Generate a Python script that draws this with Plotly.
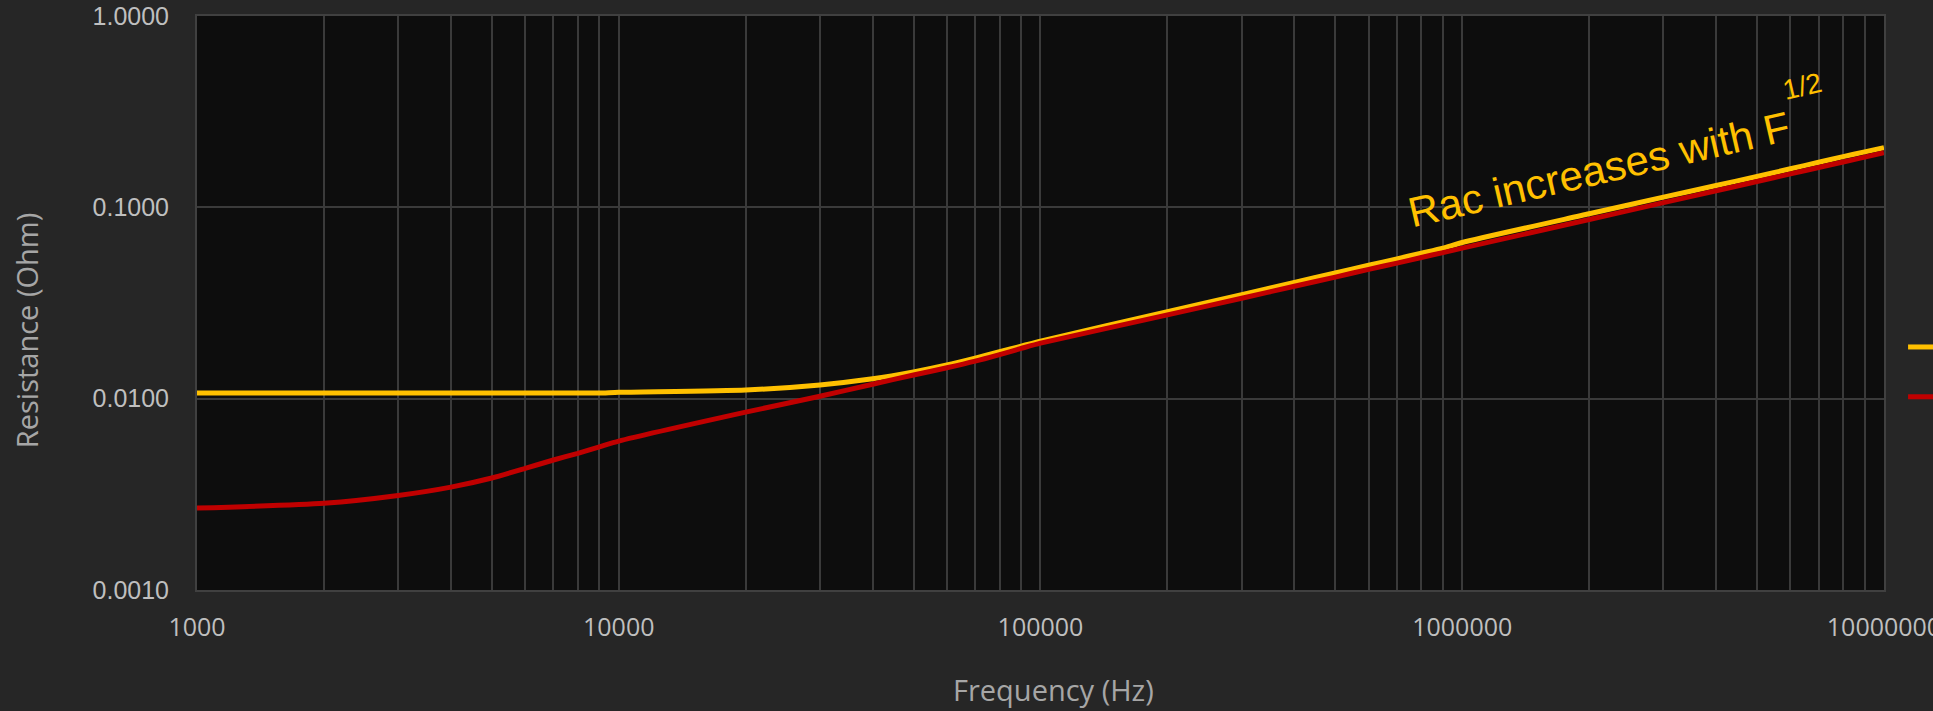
import plotly.graph_objects as go

# Frequency points (Hz): 1-9 per decade, 1 kHz to 10 MHz
freq_hz = [
    1000, 2000, 3000, 4000, 5000, 6000, 7000, 8000, 9000,
    10000, 20000, 30000, 40000, 50000, 60000, 70000, 80000, 90000,
    100000, 200000, 300000, 400000, 500000, 600000, 700000, 800000, 900000,
    1000000, 2000000, 3000000, 4000000, 5000000, 6000000, 7000000, 8000000, 9000000,
    10000000,
]

# Total AC resistance (Ohm)
rac_ohm = [
    0.0107, 0.0107, 0.0107, 0.0107, 0.0107, 0.0107, 0.0107, 0.0107, 0.0107,
    0.0108, 0.0111, 0.0118, 0.0127, 0.0138, 0.0150, 0.0163, 0.0176, 0.0188,
    0.0200, 0.0285, 0.0350, 0.0405, 0.0454, 0.0498, 0.0538, 0.0576, 0.0612,
    0.0655, 0.0925, 0.1130, 0.1300, 0.1450, 0.1590, 0.1720, 0.1840, 0.1950,
    0.2050,
]

# Second resistance curve (Ohm)
rlow_ohm = [
    0.00268, 0.00284, 0.00312, 0.00345, 0.00385, 0.00432, 0.00478, 0.00518, 0.00560,
    0.00600, 0.00850, 0.01030, 0.01190, 0.01330, 0.01450, 0.01570, 0.01700, 0.01830,
    0.01950, 0.02740, 0.03350, 0.03870, 0.04320, 0.04740, 0.05110, 0.05470, 0.05800,
    0.06120, 0.08640, 0.10580, 0.12200, 0.13650, 0.14950, 0.16150, 0.17260, 0.18300,
    0.19300,
]

series_names = ["Rac", "Rdc + skin"]
series_colors = ["#FFC000", "#C00000"]

# Gridline positions on the frequency axis; labels only at decades
x_grid_vals = freq_hz
x_grid_text = [str(v) if str(v).strip("0") == "1" else "" for v in freq_hz]

y_tick_vals = [0.001, 0.01, 0.1, 1.0]
y_tick_text = ["0.0010", "0.0100", "0.1000", "1.0000"]

fig = go.Figure()
for name, vals, color in zip(series_names, [rac_ohm, rlow_ohm], series_colors):
    fig.add_trace(go.Scatter(
        x=freq_hz, y=vals, name=name, mode="lines",
        line=dict(color=color, width=5, shape="spline", smoothing=0.6),
    ))

grid_col = "#3a3a3a"
tick_col = "#bfbfbf"
title_col = "#a6a6a6"

fig.update_layout(
    width=1933, height=711,
    margin=dict(l=197, r=49, t=16, b=121, autoexpand=False),
    paper_bgcolor="#262626",
    plot_bgcolor="#0d0d0d",
    showlegend=True,
    legend=dict(
        x=1.0113, y=0.4755, xanchor="left", yanchor="top",
        bgcolor="rgba(0,0,0,0)", borderwidth=0,
        font=dict(family="Open Sans", size=36, color=tick_col),
        itemwidth=30,
    ),
    xaxis=dict(
        type="log", range=[3, 7.00005],
        tickvals=x_grid_vals, ticktext=x_grid_text,
        showgrid=True, gridcolor=grid_col, gridwidth=1.5,
        showline=True, linecolor="#404040", linewidth=2, mirror=True,
        ticks="", ticklabelstandoff=14, ticklabeloverflow="allow",
        tickfont=dict(family="Open Sans", size=25, color=tick_col),
        zeroline=False, automargin=False,
    ),
    yaxis=dict(
        type="log", range=[-3, 0],
        tickvals=y_tick_vals, ticktext=y_tick_text,
        showgrid=True, gridcolor=grid_col, gridwidth=1.5,
        showline=True, linecolor="#404040", linewidth=2, mirror=True,
        ticks="", ticklabelstandoff=21,
        tickfont=dict(family="Liberation Sans", size=25, color=tick_col),
        zeroline=False, automargin=False,
    ),
)

# Axis titles
fig.add_annotation(
    xref="paper", yref="paper", x=0.508, y=-0.174,
    text="Frequency (Hz)", showarrow=False,
    xanchor="center", yanchor="middle",
    font=dict(family="Open Sans", size=29, color=title_col),
)
fig.add_annotation(
    xref="paper", yref="paper", x=-0.1010, y=0.452,
    text="Resistance (Ohm)", showarrow=False, textangle=-90,
    xanchor="center", yanchor="middle",
    font=dict(family="Open Sans", size=29, color=title_col),
)

# Slope note
fig.add_annotation(
    xref="paper", yref="paper", x=0.831, y=0.7334,
    text="Rac increases with F", showarrow=False, textangle=-13,
    xanchor="center", yanchor="middle",
    font=dict(family="Liberation Sans", size=42, color="#FFC000"),
)
fig.add_annotation(
    xref="paper", yref="paper", x=0.9514, y=0.877,
    text="1/2", showarrow=False, textangle=-13,
    xanchor="center", yanchor="middle",
    font=dict(family="Liberation Sans", size=28, color="#FFC000"),
)

fig.write_html("out.html")
